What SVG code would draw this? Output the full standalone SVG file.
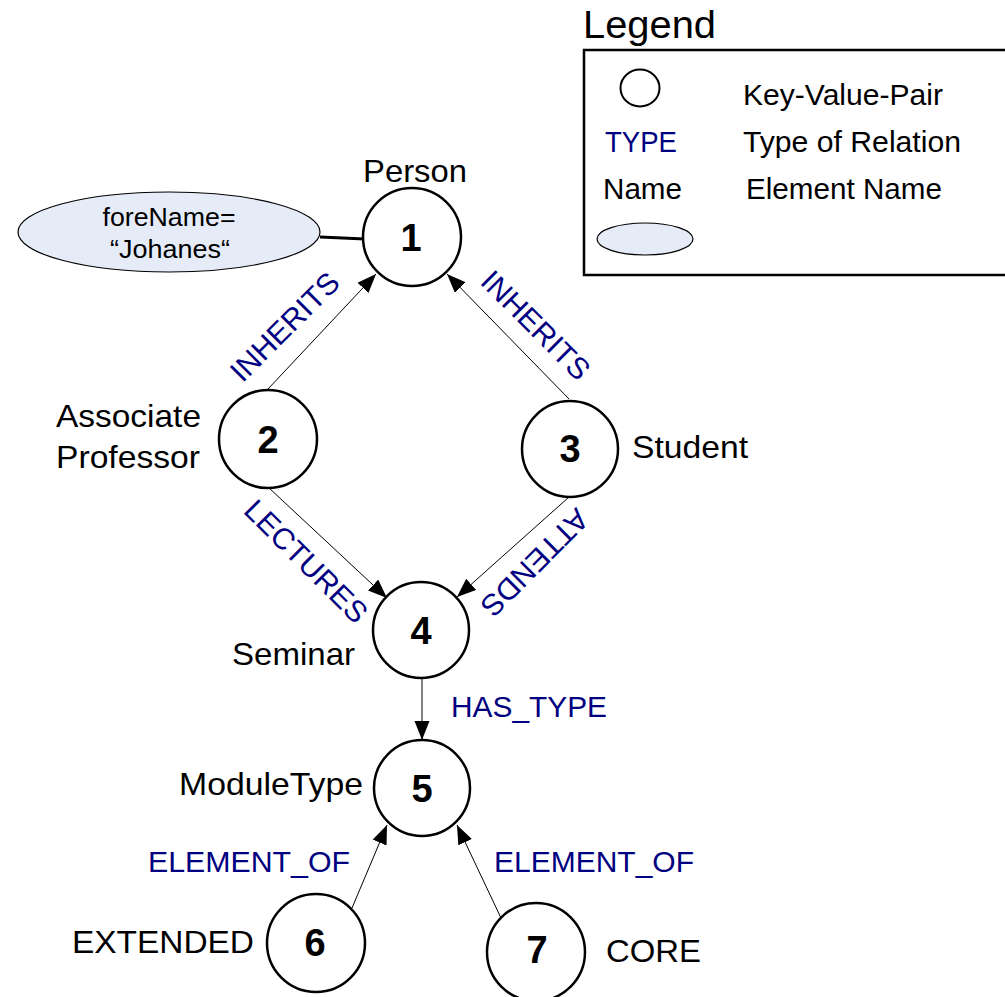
<svg xmlns="http://www.w3.org/2000/svg" width="1005" height="997" viewBox="0 0 1005 997">
  <style>
    text { font-family: "Liberation Sans", Arial, sans-serif; fill: #000; }
    .name { font-size: 32px; }
    .num { font-size: 38px; font-weight: bold; text-anchor: middle; }
    .rel { font-size: 29px; fill: #000080; }
    .rot { text-anchor: middle; font-size: 30px; }
    .legend { font-size: 29px; }
    .node { fill: #fff; stroke: #000; stroke-width: 2.5; }
    .attr { fill: #e6ecf7; stroke: #000; stroke-width: 1.2; }
    .edge { stroke: #000; stroke-width: 1; fill: none; marker-end: url(#arrow); }
  </style>
  <defs>
    <marker id="arrow" markerUnits="userSpaceOnUse" markerWidth="20" markerHeight="16" refX="19" refY="7.5" orient="auto">
      <path d="M0,0 L19,7.5 L0,15 z" fill="#000"/>
    </marker>
  </defs>

  <rect width="1005" height="997" fill="#fff"/>

  <!-- legend -->
  <g id="legend">
    <text x="583" y="38" font-size="38" textLength="133" lengthAdjust="spacingAndGlyphs">Legend</text>
    <rect x="584" y="50" width="440" height="225" fill="#fff" stroke="#000" stroke-width="2.5"/>
    <ellipse cx="640" cy="88" rx="19.5" ry="18.5" fill="#fff" stroke="#000" stroke-width="2"/>
    <text class="legend" x="743" y="105" textLength="200" lengthAdjust="spacingAndGlyphs">Key-Value-Pair</text>
    <text class="legend" x="605" y="152" style="fill:#000080" textLength="72" lengthAdjust="spacingAndGlyphs">TYPE</text>
    <text class="legend" x="743" y="152" textLength="218" lengthAdjust="spacingAndGlyphs">Type of Relation</text>
    <text class="legend" x="603" y="199" textLength="79" lengthAdjust="spacingAndGlyphs">Name</text>
    <text class="legend" x="746" y="199" textLength="196" lengthAdjust="spacingAndGlyphs">Element Name</text>
    <ellipse class="attr" cx="645" cy="239" rx="48" ry="16"/>
  </g>

  <!-- connectors -->
  <g id="connectors">
    <line x1="320" y1="237" x2="365" y2="239" stroke="#000" stroke-width="3"/>
    <line class="edge" x1="268" y1="389" x2="376" y2="274"/>
    <line class="edge" x1="569" y1="399" x2="447" y2="274"/>
    <line class="edge" x1="268" y1="487" x2="387" y2="598"/>
    <line class="edge" x1="569" y1="497" x2="457" y2="597"/>
    <line class="edge" x1="422" y1="678" x2="422" y2="740"/>
    <line class="edge" x1="352" y1="908" x2="387" y2="825"/>
    <line class="edge" x1="501" y1="918" x2="457" y2="825"/>

    <text class="rel rot" transform="translate(285,327) rotate(-45)" dy="10">INHERITS</text>
    <text class="rel rot" transform="translate(535.5,325.5) rotate(45)" dy="10">INHERITS</text>
    <text class="rel rot" transform="translate(306,561.5) rotate(45)" dy="10">LECTURES</text>
    <text class="rel rot" transform="translate(534.5,562.5) rotate(135)" dy="10">ATTENDS</text>
    <text class="rel" x="451" y="717" textLength="156" lengthAdjust="spacingAndGlyphs">HAS_TYPE</text>
    <text class="rel" x="148" y="872" textLength="202" lengthAdjust="spacingAndGlyphs">ELEMENT_OF</text>
    <text class="rel" x="494" y="872" textLength="200" lengthAdjust="spacingAndGlyphs">ELEMENT_OF</text>
  </g>

  <!-- attribute of node 1 -->
  <g id="attr-forename">
    <ellipse class="attr" cx="169" cy="232" rx="151" ry="40"/>
    <text x="169" y="226" font-size="25" text-anchor="middle" textLength="133" lengthAdjust="spacingAndGlyphs">foreName=</text>
    <text x="170" y="258" font-size="25" text-anchor="middle" textLength="120" lengthAdjust="spacingAndGlyphs">“Johanes“</text>
  </g>

  <g id="node-1">
    <circle class="node" cx="412" cy="237" r="49"/>
    <text class="num" x="411" y="251">1</text>
    <text class="name" x="363" y="182" textLength="104" lengthAdjust="spacingAndGlyphs">Person</text>
  </g>

  <g id="node-2">
    <circle class="node" cx="268" cy="439" r="49"/>
    <text class="num" x="268" y="453">2</text>
    <text class="name" x="56" y="427" textLength="145" lengthAdjust="spacingAndGlyphs">Associate</text>
    <text class="name" x="56" y="468" textLength="144" lengthAdjust="spacingAndGlyphs">Professor</text>
  </g>

  <g id="node-3">
    <circle class="node" cx="570" cy="449" r="48"/>
    <text class="num" x="570" y="462">3</text>
    <text class="name" x="632" y="458" textLength="116" lengthAdjust="spacingAndGlyphs">Student</text>
  </g>

  <g id="node-4">
    <circle class="node" cx="421" cy="630" r="48"/>
    <text class="num" x="421" y="644">4</text>
    <text class="name" x="232" y="665" textLength="123" lengthAdjust="spacingAndGlyphs">Seminar</text>
  </g>

  <g id="node-5">
    <circle class="node" cx="422" cy="788" r="48"/>
    <text class="num" x="422" y="802">5</text>
    <text class="name" x="179" y="795" textLength="184" lengthAdjust="spacingAndGlyphs">ModuleType</text>
  </g>

  <g id="node-6">
    <circle class="node" cx="316" cy="943" r="49"/>
    <text class="num" x="315" y="956">6</text>
    <text class="name" x="72" y="953" textLength="182" lengthAdjust="spacingAndGlyphs">EXTENDED</text>
  </g>

  <g id="node-7">
    <circle class="node" cx="536" cy="952" r="49"/>
    <text class="num" x="537" y="963">7</text>
    <text class="name" x="606" y="962" textLength="95" lengthAdjust="spacingAndGlyphs">CORE</text>
  </g>
</svg>
